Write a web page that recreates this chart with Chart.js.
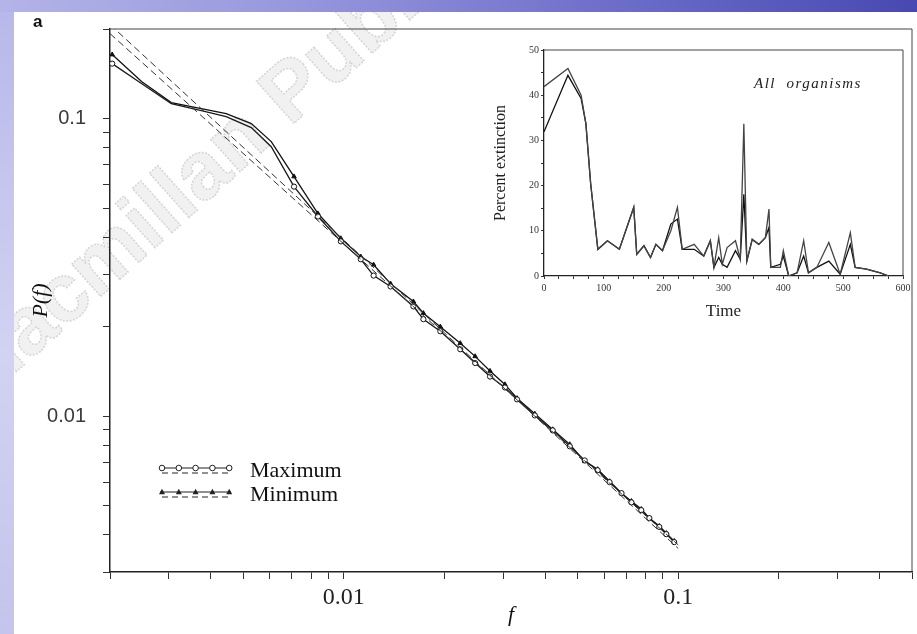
<!DOCTYPE html>
<html>
<head>
<meta charset="utf-8">
<script src="https://cdn.jsdelivr.net/npm/chart.js@4.4.1/dist/chart.umd.min.js"></script>
<style>
  html, body { margin: 0; padding: 0; }
  body { width: 917px; height: 634px; position: relative; overflow: hidden; background: #fff; }
  #topbar { position: absolute; left: 0; top: 0; width: 917px; height: 12px;
    background: linear-gradient(to right, #b4b4e8, #9494dc 35%, #6a6ac8 70%, #4848b2); }
  #leftbar { position: absolute; left: 0; top: 12px; width: 14px; height: 622px;
    background: linear-gradient(to bottom, #b8b8ea, #d2d2f2 55%, #c4c4ec); }
  #main { position: absolute; left: 0; top: 0; }
  #inset { position: absolute; left: 480px; top: 20px; }
</style>
</head>
<body>
<div id="topbar"></div>
<div id="leftbar"></div>
<canvas id="main" width="917" height="634"></canvas>
<canvas id="inset" width="437" height="310"></canvas>
<script>
// main panel: P(f) against f, log-log
const fGrid = [0.00203, 0.00249, 0.00305, 0.00375, 0.00445, 0.00529, 0.00607, 0.0071, 0.00837, 0.0098,
  0.01124, 0.01228, 0.0138, 0.01615, 0.0173, 0.01944, 0.0223, 0.02471, 0.02737, 0.03033,
  0.03296, 0.03725, 0.04215, 0.04739, 0.05254, 0.05741, 0.06233, 0.06768, 0.07244, 0.07754,
  0.08198, 0.08778, 0.09212, 0.09727];
const pMaximum = [0.153, 0.131, 0.1122, 0.1064, 0.1016, 0.0933, 0.0805, 0.0591, 0.0469, 0.0387,
  0.0337, 0.0297, 0.0273, 0.0234, 0.0212, 0.0193, 0.0168, 0.0151, 0.0136, 0.0125,
  0.0114, 0.01007, 0.00897, 0.00793, 0.00711, 0.00659, 0.00601, 0.00552, 0.00514, 0.00484,
  0.00455, 0.00425, 0.00402, 0.00378];
const pMinimum = [0.1641, 0.133, 0.1132, 0.1081, 0.1039, 0.0962, 0.0837, 0.0639, 0.048, 0.0396,
  0.0344, 0.0323, 0.0279, 0.0243, 0.0222, 0.02, 0.0176, 0.0159, 0.0142, 0.0128,
  0.0115, 0.0102, 0.00904, 0.00805, 0.00706, 0.00664, 0.00605, 0.00552, 0.00519, 0.00488,
  0.00455, 0.00428, 0.00405, 0.00381];
// power-law fits (dashed)
const fitF = [0.002, 0.1];
const fitMaximum = [0.207, 0.0036];
const fitMinimum = [0.193, 0.0037];

const xTickValues = [0.002, 0.003, 0.004, 0.005, 0.006, 0.007, 0.008, 0.009, 0.01,
  0.02, 0.03, 0.04, 0.05, 0.06, 0.07, 0.08, 0.09, 0.1, 0.2, 0.3, 0.4, 0.5];
const yTickValues = [0.003, 0.004, 0.005, 0.006, 0.007, 0.008, 0.009, 0.01,
  0.02, 0.03, 0.04, 0.05, 0.06, 0.07, 0.08, 0.09, 0.1, 0.2];
const labelValues = [0.01, 0.1];
const labelTexts = ['0.01', '0.1'];

// inset: percent extinction over time
const insetTime = [0, 40, 62, 70, 78, 90, 106, 126, 150, 155, 167, 178, 187, 198, 212, 223, 231, 251, 267, 278,
  284, 292, 298, 306, 320, 328, 334, 339, 348, 359, 370, 376, 379, 395, 400, 409, 423, 434, 442, 456,
  476, 495, 512, 520, 539, 562, 576];
const extinctionA = [41.9, 45.9, 40, 33.7, 20.4, 5.9, 7.8, 5.9, 15.2, 4.8, 6.7, 4.1, 7.0, 5.6, 10, 15.2, 5.9, 7.0, 4.4, 7.8,
  1.9, 8.5, 2.6, 6.3, 7.8, 3.7, 33.7, 3.3, 8.1, 7.0, 8.5, 14.8, 1.9, 1.9, 5.6, 0, 0.7, 7.8, 0.7, 1.9,
  7.4, 0.4, 9.6, 1.9, 1.5, 0.7, 0];
const extinctionB = [31.9, 44.4, 39.3, 33.7, 20.4, 5.9, 7.8, 5.9, 15.2, 4.8, 6.7, 4.1, 7.0, 5.6, 11.5, 12.6, 5.9, 5.9, 4.4, 7.8,
  1.9, 4.1, 2.6, 1.9, 5.6, 3.7, 18.1, 3.3, 8.1, 7.0, 8.5, 10.7, 1.9, 2.6, 4.4, 0, 0.7, 4.4, 0.7, 1.9,
  3.3, 0.4, 7.0, 1.9, 1.5, 0.7, 0];
const insetXTicks = [];
for (let t = 0; t <= 600; t += 25) insetXTicks.push(t);
const insetYTicks = [0, 5, 10, 15, 20, 25, 30, 35, 40, 45, 50];

function labelFor(v) {
  for (let i = 0; i < labelValues.length; i++) {
    if (Math.abs(v - labelValues[i]) / labelValues[i] < 1e-6) return labelTexts[i];
  }
  return '';
}

function toPoints(xs, ys) {
  return xs.map((x, i) => ({x: x, y: ys[i]}));
}

// marks only on the first point and the dense tail, like the original
function markerRadius(ctx) {
  return (ctx.dataIndex === 0 || fGrid[ctx.dataIndex] > 0.0065) ? 2.6 : 0;
}

const framePlugin = {
  id: 'frame',
  afterDraw(chart) {
    const {ctx, chartArea: a} = chart;
    ctx.save();
    ctx.strokeStyle = '#444';
    ctx.lineWidth = 1;
    ctx.beginPath();
    ctx.moveTo(a.left, a.top);
    ctx.lineTo(a.right, a.top);
    ctx.lineTo(a.right, a.bottom);
    ctx.stroke();
    ctx.restore();
  }
};

const decorPlugin = {
  id: 'decor',
  beforeDraw(chart) {
    const ctx = chart.ctx;
    // publisher watermark
    ctx.save();
    ctx.beginPath();
    ctx.rect(14, 12, 903, 622);
    ctx.clip();
    ctx.translate(290, 127);
    ctx.rotate(-0.73);
    ctx.font = 'bold 82px "Liberation Sans"';
    ctx.fillStyle = '#f1f1f1';
    ctx.strokeStyle = '#d6d6d6';
    ctx.lineWidth = 1.5;
    ctx.setLineDash([2, 1.5]);
    ctx.textAlign = 'right';
    ctx.fillText('Macmillan ', 0, 0);
    ctx.strokeText('Macmillan ', 0, 0);
    ctx.textAlign = 'left';
    ctx.fillText('Publishers', 0, 0);
    ctx.strokeText('Publishers', 0, 0);
    ctx.restore();
  },
  afterDraw(chart) {
    const {ctx, chartArea: a} = chart;
    ctx.save();
    ctx.fillStyle = '#111';
    ctx.font = 'bold 17px "Liberation Sans"';
    ctx.fillText('a', 33, 27);

    // legend
    const rows = [
      {text: 'Maximum', style: 'circle', dy: 439},
      {text: 'Minimum', style: 'triangle', dy: 463}
    ];
    rows.forEach(r => {
      const y = a.top + r.dy;
      const x0 = a.left + 50, x1 = a.left + 121;
      ctx.strokeStyle = '#222';
      ctx.lineWidth = 1.2;
      ctx.setLineDash([]);
      ctx.beginPath(); ctx.moveTo(x0, y); ctx.lineTo(x1, y); ctx.stroke();
      ctx.lineWidth = 1;
      ctx.setLineDash([6, 4]);
      ctx.beginPath(); ctx.moveTo(x0 + 2, y + 5); ctx.lineTo(x1, y + 5); ctx.stroke();
      ctx.setLineDash([]);
      for (let k = 0; k < 5; k++) {
        const mx = x0 + 2 + k * 16.8;
        ctx.beginPath();
        if (r.style === 'circle') {
          ctx.arc(mx, y, 2.8, 0, Math.PI * 2);
          ctx.fillStyle = '#fff'; ctx.fill(); ctx.stroke();
        } else {
          ctx.moveTo(mx, y - 3.2); ctx.lineTo(mx + 3, y + 2.2); ctx.lineTo(mx - 3, y + 2.2); ctx.closePath();
          ctx.fillStyle = '#222'; ctx.fill();
        }
      }
      ctx.fillStyle = '#111';
      ctx.font = '22px "Liberation Serif"';
      ctx.textBaseline = 'middle';
      ctx.fillText(r.text, a.left + 140, y + 3);
    });
    ctx.restore();
  }
};

new Chart(document.getElementById('main'), {
  type: 'line',
  data: {
    datasets: [
      {label: 'Maximum fit', data: toPoints(fitF, fitMaximum), borderColor: '#333', borderWidth: 1,
        borderDash: [7, 4], pointRadius: 0},
      {label: 'Minimum fit', data: toPoints(fitF, fitMinimum), borderColor: '#333', borderWidth: 1,
        borderDash: [7, 4], pointRadius: 0},
      {label: 'Maximum', data: toPoints(fGrid, pMaximum), borderColor: '#1a1a1a', borderWidth: 1.3,
        pointStyle: 'circle', pointRadius: markerRadius, pointBackgroundColor: '#fff',
        pointBorderColor: '#111', pointBorderWidth: 1},
      {label: 'Minimum', data: toPoints(fGrid, pMinimum), borderColor: '#111', borderWidth: 1.3,
        pointStyle: 'triangle', pointRadius: markerRadius, pointBackgroundColor: '#111',
        pointBorderColor: '#111', pointBorderWidth: 1}
    ]
  },
  options: {
    responsive: false,
    animation: false,
    layout: {padding: {top: 28, right: 3, left: 0, bottom: 0}},
    plugins: {legend: {display: false}, tooltip: {enabled: false}},
    scales: {
      x: {
        type: 'logarithmic', min: 0.002, max: 0.5,
        afterBuildTicks: s => { s.ticks = xTickValues.map(v => ({value: v})); },
        afterFit: s => { s.height = 62; },
        ticks: {callback: v => labelFor(v), autoSkip: false, maxRotation: 0, padding: 4,
          color: '#222', font: {family: 'Liberation Serif', size: 24}},
        grid: {drawOnChartArea: false, tickLength: 7, color: '#333'},
        border: {color: '#222', width: 1.5},
        title: {display: true, text: 'f', color: '#111', padding: {top: 0, bottom: 6},
          font: {family: 'Liberation Serif', size: 22, style: 'italic'}}
      },
      y: {
        type: 'logarithmic', min: 0.003, max: 0.2,
        afterBuildTicks: s => { s.ticks = yTickValues.map(v => ({value: v})); },
        afterFit: s => { s.width = 110; },
        ticks: {callback: v => labelFor(v), autoSkip: false, padding: 17,
          color: '#3a3a3a', font: {family: 'Liberation Sans', size: 20}},
        grid: {drawOnChartArea: false, tickLength: 7, color: '#333'},
        border: {color: '#222', width: 1.5},
        title: {display: true, text: 'P(f)', color: '#111', padding: {top: 28, bottom: 0},
          font: {family: 'Liberation Serif', size: 22, style: 'italic'}}
      }
    }
  },
  plugins: [decorPlugin, framePlugin]
});

const insetTextPlugin = {
  id: 'insetText',
  afterDraw(chart) {
    const {ctx, chartArea: a} = chart;
    ctx.save();
    ctx.fillStyle = '#222';
    ctx.font = 'italic 15px "Liberation Serif"';
    ctx.letterSpacing = '1.5px';
    ctx.fillText('All  organisms', a.left + 210, a.top + 38);
    ctx.restore();
  }
};

new Chart(document.getElementById('inset'), {
  type: 'line',
  data: {
    datasets: [
      {label: 'A', data: toPoints(insetTime, extinctionA), borderColor: '#444', borderWidth: 1.3,
        pointRadius: 0, tension: 0},
      {label: 'B', data: toPoints(insetTime, extinctionB), borderColor: '#111', borderWidth: 1.3,
        pointRadius: 0, tension: 0}
    ]
  },
  options: {
    responsive: false,
    animation: false,
    layout: {padding: {top: 30, right: 14, left: 0, bottom: 0}},
    plugins: {legend: {display: false}, tooltip: {enabled: false}},
    scales: {
      x: {
        type: 'linear', min: 0, max: 600,
        afterBuildTicks: s => { s.ticks = insetXTicks.map(v => ({value: v})); },
        afterFit: s => { s.height = 54; },
        ticks: {callback: v => (v % 100 === 0 ? String(v) : ''), autoSkip: false, maxRotation: 0,
          padding: 3, color: '#333', font: {family: 'Liberation Serif', size: 10}},
        grid: {drawOnChartArea: false, tickLength: 3, color: '#333'},
        border: {color: '#222', width: 1.3},
        title: {display: true, text: 'Time', color: '#222', padding: {top: 0, bottom: 8},
          font: {family: 'Liberation Serif', size: 17}}
      },
      y: {
        type: 'linear', min: 0, max: 50,
        afterBuildTicks: s => { s.ticks = insetYTicks.map(v => ({value: v})); },
        afterFit: s => { s.width = 64; },
        ticks: {callback: v => (v % 10 === 0 ? String(v) : ''), autoSkip: false,
          padding: 2, color: '#333', font: {family: 'Liberation Serif', size: 10}},
        grid: {drawOnChartArea: false, tickLength: 3, color: '#333'},
        border: {color: '#222', width: 1.3},
        title: {display: true, text: 'Percent extinction', color: '#222', padding: {top: 11, bottom: 0},
          font: {family: 'Liberation Serif', size: 16}}
      }
    }
  },
  plugins: [framePlugin, insetTextPlugin]
});
</script>
</body>
</html>
